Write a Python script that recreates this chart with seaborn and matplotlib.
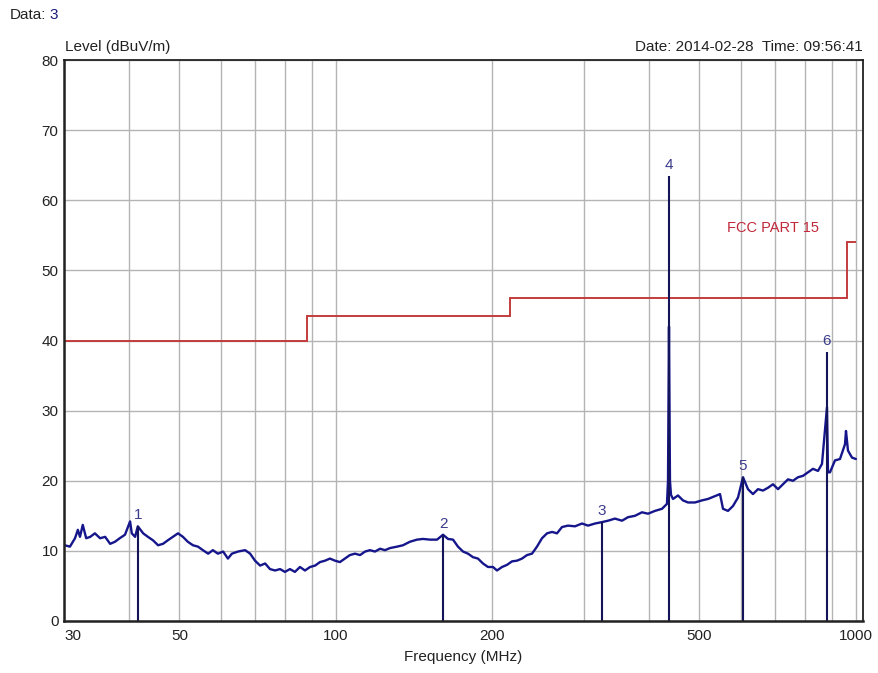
import numpy as np
import pandas as pd
import seaborn as sns
import matplotlib
matplotlib.use("Agg")
import matplotlib.pyplot as plt

freq = [30.0, 30.1, 30.8, 31.5, 31.9, 32.2, 32.6, 33.1, 33.7, 34.4, 35.2, 36.0, 36.8, 37.6,
        38.4, 39.3, 40.2, 40.5, 41.1, 41.6, 42.6, 43.5, 44.5, 45.5, 46.5, 47.5, 48.6, 49.7,
        50.8, 51.9, 53.1, 54.3, 55.5, 56.8, 58.0, 59.3, 60.7, 62.0, 63.1, 64.8, 66.9, 68.4,
        69.9, 71.5, 73.1, 74.7, 76.4, 78.1, 79.8, 81.6, 83.4, 85.3, 87.2, 89.2, 91.2, 93.2,
        95.3, 97.4, 99.6, 101.8, 104.1, 106.4, 108.8, 111.3, 113.8, 116.3, 118.9, 121.6,
        124.3, 127.1, 131.1, 134.6, 138.8, 143.2, 147.1, 151.7, 156.5, 160.7, 164.3, 168.0,
        171.7, 175.6, 179.5, 183.5, 187.6, 191.8, 196.1, 200.5, 204.1, 208.7, 213.3, 218.1,
        223.0, 228.0, 233.1, 238.3, 243.6, 249.1, 254.7, 260.4, 266.2, 272.2, 279.5, 288.3,
        297.4, 305.4, 315.0, 324.9, 333.6, 344.1, 355.0, 364.5, 376.0, 387.8, 398.3, 410.8,
        423.8, 433.2, 435.2, 437.1, 439.0, 441.0, 444.9, 454.9, 465.0, 475.5, 490.4, 505.9,
        519.5, 535.9, 547.9, 555.2, 567.6, 580.3, 593.3, 606.6, 620.1, 634.0, 648.2, 662.8,
        677.6, 692.8, 708.3, 724.1, 740.3, 756.9, 773.9, 791.2, 808.9, 827.0, 845.5, 860.6,
        879.9, 883.8, 891.6, 911.6, 932.0, 952.9, 957.1, 965.6, 982.9, 1000.0]
level = [10.8, 10.8, 10.6, 11.8, 13.0, 12.0, 13.7, 11.8, 12.0, 12.5, 11.8, 12.0, 11.0, 11.3,
         11.8, 12.3, 14.2, 12.5, 12.0, 13.5, 12.5, 12.0, 11.5, 10.8, 11.0, 11.5, 12.0, 12.5,
         12.0, 11.3, 10.8, 10.6, 10.1, 9.6, 10.1, 9.6, 9.9, 8.9, 9.6, 9.9, 10.1, 9.6,
         8.6, 7.9, 8.2, 7.4, 7.2, 7.4, 7.0, 7.4, 7.0, 7.7, 7.2, 7.7, 7.9, 8.4,
         8.6, 8.9, 8.6, 8.4, 8.9, 9.4, 9.6, 9.4, 9.9, 10.1, 9.9, 10.3,
         10.1, 10.4, 10.6, 10.8, 11.3, 11.6, 11.7, 11.6, 11.6, 12.3, 11.7, 11.6,
         10.6, 9.9, 9.6, 9.1, 8.9, 8.2, 7.7, 7.7, 7.2, 7.7, 8.0, 8.5,
         8.6, 8.9, 9.4, 9.6, 10.6, 11.8, 12.5, 12.7, 12.5, 13.4, 13.6, 13.5,
         13.9, 13.6, 13.9, 14.1, 14.3, 14.6, 14.3, 14.8, 15.0, 15.5, 15.3, 15.7,
         16.0, 16.7, 20.0, 42.0, 20.0, 18.0, 17.4, 17.9, 17.2, 16.9, 16.9, 17.2,
         17.4, 17.8, 18.1, 16.0, 15.7, 16.4, 17.6, 20.5, 18.8, 18.1, 18.8, 18.6,
         19.0, 19.5, 18.8, 19.5, 20.2, 20.0, 20.5, 20.7, 21.2, 21.7, 21.4, 22.4,
         30.5, 21.2, 21.2, 22.9, 23.1, 25.2, 27.1, 24.3, 23.3, 23.1]

# FCC Part 15 class B radiated limit
limit_edges = [30, 88, 216, 960, 1000]
limit_levels = [40, 43.5, 46, 54]

# peak markers
marker_id = ["1", "2", "3", "4", "5", "6"]
marker_freq = [41.6, 160.7, 324.9, 437.1, 606.6, 879.9]
marker_level = [13.5, 12.3, 14.1, 63.5, 20.5, 38.3]

xtick_vals = [30, 50, 100, 200, 500, 1000]
xminor_vals = [40, 60, 70, 80, 90, 300, 400, 600, 700, 800, 900]

sns.set_style("white")
plt.rcParams["font.family"] = ["Liberation Sans", "DejaVu Sans"]

df = pd.DataFrame({"freq": freq, "level": level})

fig = plt.figure(figsize=(8.79, 6.73), dpi=100)
ax = fig.add_axes([0.0728, 0.0773, 0.9090, 0.8335])

ax.set_xscale("log")
ax.set_xlim(30, 1032)
ax.set_ylim(0, 80)

# grid
ax.set_xticks(xtick_vals)
ax.set_xticklabels([str(v) for v in xtick_vals])
ax.set_xticks(xminor_vals, minor=True)
ax.set_xticklabels([], minor=True)
ax.set_yticks(np.arange(0, 81, 10))
ax.grid(True, which="both", color="#b4b4b4", linewidth=1)
ax.set_axisbelow(True)
ax.tick_params(axis="both", which="both", length=0, labelsize=11, colors="#222222")
ax.tick_params(axis="x", pad=6)
ax.tick_params(axis="y", pad=4)
ax.get_xticklabels()[0].set_horizontalalignment("left")

for s in ax.spines.values():
    s.set_color("#222222")
    s.set_linewidth(1.3)
ax.spines["left"].set_linewidth(1.8)
ax.spines["bottom"].set_linewidth(1.8)

# limit line
ax.stairs(limit_levels, limit_edges, baseline=None, color="#c43c3c", linewidth=1.4)
ax.text(693, 55.0, "FCC PART 15", color="#c0283a", fontsize=10.5, ha="center", va="bottom")

# trace
sns.lineplot(data=df, x="freq", y="level", ax=ax, color="#16168c", linewidth=1.7,
             estimator=None, sort=False)

# markers
ax.vlines(marker_freq, 0, marker_level, color="#14145a", linewidth=1.5)
for mid, mf, ml in zip(marker_id, marker_freq, marker_level):
    ax.text(mf, ml + 0.6, mid, color="#3c3c8c", fontsize=11, ha="center", va="bottom")

ax.set_xlabel("Frequency (MHz)", fontsize=11, labelpad=5, color="#222222")
ax.set_ylabel("")

fig.text(0.011, 0.978, "Data:", fontsize=11, va="center", ha="left", color="#222222")
fig.text(0.056, 0.978, "3", fontsize=11, va="center", ha="left", color="#1a1a7a")
fig.text(0.074, 0.930, "Level (dBuV/m)", fontsize=11, va="center", ha="left", color="#222222")
fig.text(0.981, 0.930, "Date: 2014-02-28  Time: 09:56:41", fontsize=11, va="center",
         ha="right", color="#222222")

fig.savefig("out.png", dpi=100)
